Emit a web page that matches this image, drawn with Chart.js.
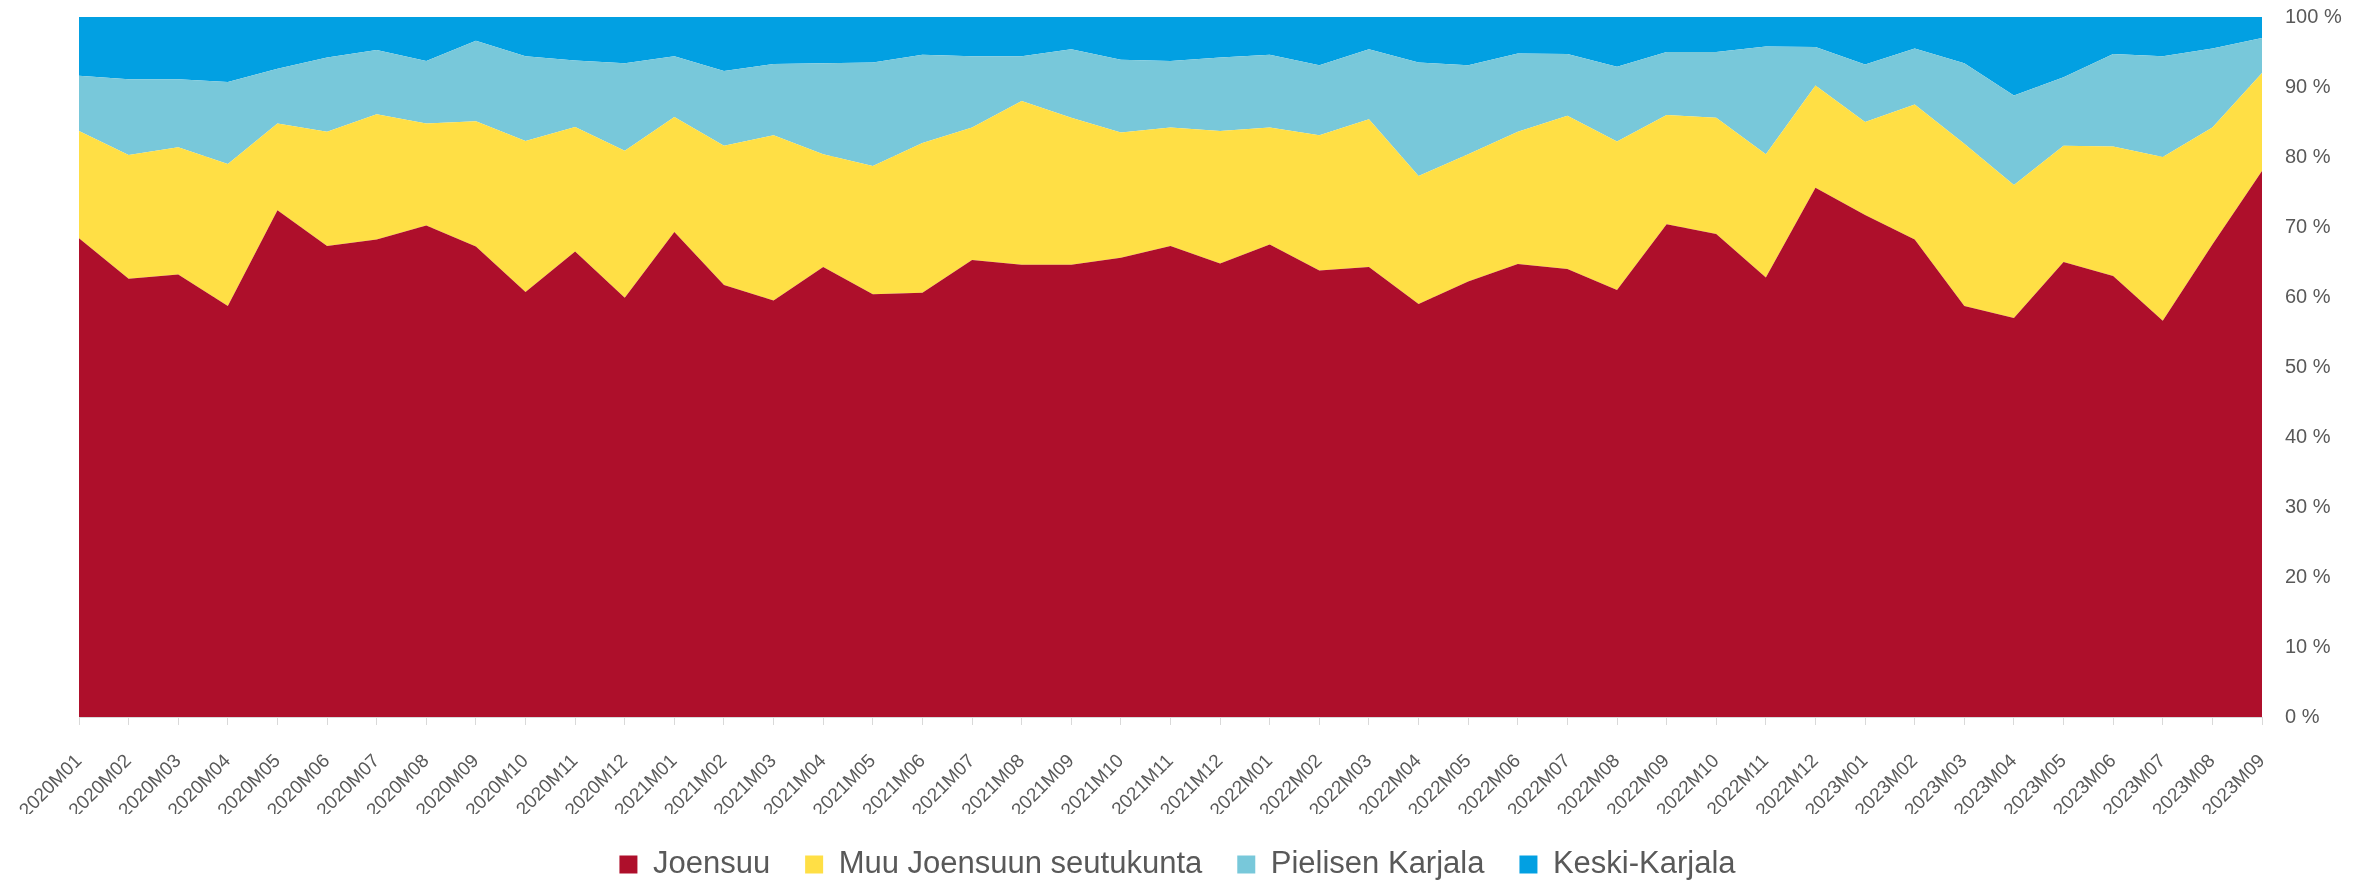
<!DOCTYPE html>
<html>
<head>
<meta charset="utf-8">
<script src="https://cdn.jsdelivr.net/npm/chart.js@4/dist/chart.umd.min.js"></script>
<style>
  html, body { margin: 0; padding: 0; background: #ffffff; }
  #wrap { width: 2371px; height: 883px; position: relative; }
</style>
</head>
<body>
<div id="wrap"><canvas id="c" width="2371" height="883"></canvas></div>
<script>
const categories = [
  "2020M01","2020M02","2020M03","2020M04","2020M05","2020M06","2020M07","2020M08","2020M09","2020M10","2020M11","2020M12",
  "2021M01","2021M02","2021M03","2021M04","2021M05","2021M06","2021M07","2021M08","2021M09","2021M10","2021M11","2021M12",
  "2022M01","2022M02","2022M03","2022M04","2022M05","2022M06","2022M07","2022M08","2022M09","2022M10","2022M11","2022M12",
  "2023M01","2023M02","2023M03","2023M04","2023M05","2023M06","2023M07","2023M08","2023M09"
];
const joensuu = [68.4,62.6,63.2,58.7,72.4,67.3,68.2,70.2,67.2,60.7,66.5,59.9,
  69.3,61.7,59.5,64.3,60.4,60.6,65.3,64.6,64.6,65.6,67.3,64.8,
  67.5,63.8,64.3,59.0,62.2,64.7,64.0,61.0,70.4,69.0,62.8,75.6,
  71.7,68.2,58.7,57.0,65.0,63.0,56.6,67.5,78.0];
const muuSeutukunta = [15.3,17.7,18.2,20.3,12.4,16.3,17.9,14.6,17.9,21.6,17.8,21.0,
  16.4,19.9,23.6,16.1,18.3,21.4,18.9,23.4,21.0,17.9,16.9,18.9,
  16.7,19.3,21.1,18.3,18.2,18.9,21.9,21.2,15.6,16.6,17.6,14.6,
  13.3,19.3,23.2,19.0,16.6,18.5,23.4,16.7,14.0];
const pielisenKarjala = [7.9,10.8,9.7,11.7,7.8,10.6,9.2,8.9,11.5,12.1,9.5,12.5,
  8.7,10.7,10.2,13.0,14.8,12.6,10.2,6.4,9.8,10.4,9.5,10.5,
  10.4,10.0,10.0,16.2,12.7,11.2,8.8,10.7,9.0,9.4,15.4,5.5,
  8.2,8.0,11.5,12.8,9.8,13.2,14.4,11.3,5.0];
const keskiKarjala = [8.4,8.9,8.9,9.3,7.4,5.8,4.7,6.3,3.4,5.6,6.2,6.6,
  5.6,7.7,6.7,6.6,6.5,5.4,5.6,5.6,4.6,6.1,6.3,5.8,
  5.4,6.9,4.6,6.5,6.9,5.2,5.3,7.1,5.0,5.0,4.2,4.3,
  6.8,4.5,6.6,11.2,8.6,5.3,5.6,4.5,3.0];
const yTicks = [0,10,20,30,40,50,60,70,80,90,100];

const seriesNames = ["Joensuu","Muu Joensuun seutukunta","Pielisen Karjala","Keski-Karjala"];
const seriesData = [joensuu, muuSeutukunta, pielisenKarjala, keskiKarjala];
const colors = ["#AE0F2B","#FFDF45","#78C8DA","#02A0E2"];

const datasets = seriesNames.map((name, i) => ({
  label: name,
  data: seriesData[i],
  backgroundColor: colors[i],
  borderColor: colors[i],
  borderWidth: 0,
  pointRadius: 0,
  pointHoverRadius: 0,
  tension: 0,
  fill: i === 0 ? 'origin' : '-1'
}));

const FONT = "'Liberation Sans', Arial, sans-serif";
const GREY = "#595959";

new Chart(document.getElementById('c'), {
  type: 'line',
  data: { labels: categories, datasets: datasets },
  options: {
    responsive: false,
    animation: false,
    devicePixelRatio: 1,
    layout: { padding: { left: 8, right: 24, top: 17, bottom: -7 } },
    elements: { line: { borderWidth: 0 } },
    plugins: {
      tooltip: { enabled: false },
      legend: {
        position: 'bottom',
        labels: {
          boxWidth: 18,
          boxHeight: 18,
          padding: 35,
          color: GREY,
          font: { family: FONT, size: 31 }
        }
      }
    },
    scales: {
      x: {
        offset: false,
        afterFit: (s) => { s.paddingLeft = 79; s.paddingRight = 0; s.height = 97; },
        grid: { display: true, drawOnChartArea: false, drawTicks: true, tickLength: 8, color: '#d9d9d9' },
        border: { display: true, color: '#d9d9d9' },
        ticks: {
          autoSkip: false,
          maxRotation: 45,
          minRotation: 45,
          padding: 25,
          color: GREY,
          font: { family: FONT, size: 19 }
        }
      },
      y: {
        position: 'right',
        stacked: true,
        min: 0,
        max: 100,
        afterFit: (s) => { s.paddingTop = 0; s.paddingBottom = 0; s.width = 85; },
        afterBuildTicks: (axis) => { axis.ticks = yTicks.map(v => ({ value: v })); },
        grid: { display: true, drawOnChartArea: true, drawTicks: false, color: '#d9d9d9' },
        border: { display: false },
        ticks: {
          padding: 23,
          color: GREY,
          font: { family: FONT, size: 20 },
          callback: (v) => v + ' %'
        }
      }
    }
  }
});
</script>
</body>
</html>
